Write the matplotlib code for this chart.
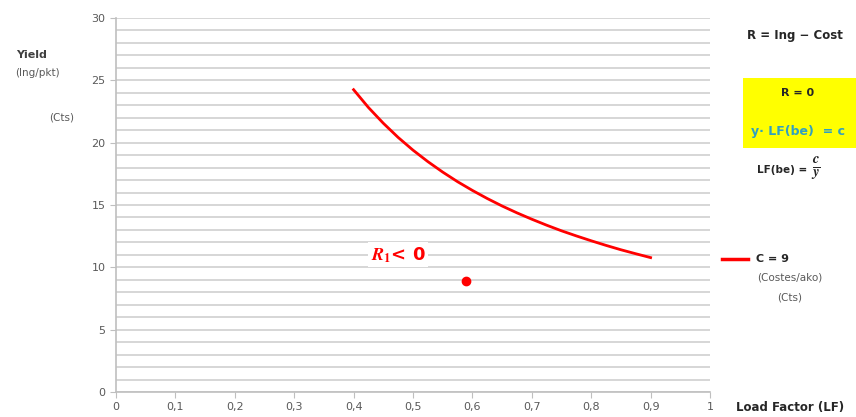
import matplotlib.pyplot as plt
from matplotlib.ticker import MultipleLocator, FuncFormatter

# data
load_factor = [0.40, 0.425, 0.45, 0.475, 0.50, 0.525, 0.55, 0.575, 0.60, 0.625, 0.65,
               0.675, 0.70, 0.725, 0.75, 0.775, 0.80, 0.825, 0.85, 0.875, 0.90]
yield_cts = [24.25, 22.82, 21.56, 20.42, 19.40, 18.48, 17.64, 16.87, 16.17, 15.52, 14.92,
             14.37, 13.86, 13.38, 12.93, 12.52, 12.13, 11.76, 11.41, 11.09, 10.78]
point_lf = [0.59]
point_yield = [8.9]

W, H = 856, 417
fig = plt.figure(figsize=(W / 100, H / 100), dpi=100)
ax = fig.add_axes([116 / W, 1 - 392 / H, (710 - 116) / W, (392 - 18) / H])

grid_c = "#d0d0d0"
txt_c = "#595959"

ax.set_xlim(0, 1)
ax.set_ylim(0, 30)
ax.xaxis.set_major_locator(MultipleLocator(0.1))
ax.yaxis.set_major_locator(MultipleLocator(5))
ax.yaxis.set_minor_locator(MultipleLocator(1))
ax.xaxis.set_major_formatter(FuncFormatter(lambda v, p: f"{v:.1f}".replace(".", ",").replace("0,0", "0").replace("1,0", "1")))
ax.yaxis.grid(True, which="both", color=grid_c, linewidth=1.2)
ax.set_axisbelow(True)
for s in ["top", "right"]:
    ax.spines[s].set_visible(False)
for s in ["left", "bottom"]:
    ax.spines[s].set_color("#bfbfbf")
    ax.spines[s].set_linewidth(1.2)
ax.tick_params(which="major", length=4, color="#bfbfbf", labelsize=8, labelcolor=txt_c)
ax.tick_params(which="minor", length=0)

ax.plot(load_factor, yield_cts, color="#ff0000", linewidth=2, solid_joinstyle="round")
ax.plot(point_lf, point_yield, "o", color="#ff0000", markersize=6)

ax.text(0.475, 11.0, r"$\mathbfit{R}_\mathbf{1}$< 0", color="#ff0000", fontsize=13, fontweight="bold",
        math_fontfamily="stix", ha="center", va="center",
        bbox=dict(facecolor="white", edgecolor="none", pad=2))

# left side labels
fig.text(32 / W, 1 - 55 / H, "Yield", fontsize=8, fontweight="bold", color="#404040", ha="center", va="center")
fig.text(37 / W, 1 - 73 / H, "(lng/pkt)", fontsize=7.5, color=txt_c, ha="center", va="center")
fig.text(62 / W, 1 - 117 / H, "(Cts)", fontsize=7.5, color=txt_c, ha="center", va="center")

# right side notes
fig.text(795 / W, 1 - 35 / H, "R = Ing − Cost", fontsize=8.5, fontweight="bold", color="#262626", ha="center", va="center")
fig.patches.append(plt.Rectangle((743 / W, 1 - 148 / H), (856 - 743) / W, 70 / H,
                                 transform=fig.transFigure, facecolor="#ffff00", edgecolor="none"))
fig.text(798 / W, 1 - 93 / H, "R = 0", fontsize=8, fontweight="bold", color="#262626", ha="center", va="center")
fig.text(798 / W, 1 - 131 / H, "y· LF(be)  = c", fontsize=9, fontweight="bold", color="#31a0c0", ha="center", va="center")
fig.text(782 / W, 1 - 170 / H, "LF(be) =", fontsize=7.5, fontweight="bold", color="#262626", ha="center", va="center")
fig.text(816 / W, 1 - 168 / H, r"$\mathbfit{\frac{c}{y}}$", fontsize=15, color="#262626", math_fontfamily="stix",
         ha="center", va="center")

# legend
fig.add_artist(plt.Line2D([722 / W, 748 / W], [1 - 259 / H, 1 - 259 / H], color="#ff0000", linewidth=2.5))
fig.text(756 / W, 1 - 259 / H, "C = 9", fontsize=8, fontweight="bold", color="#262626", ha="left", va="center")
fig.text(790 / W, 1 - 278 / H, "(Costes/ako)", fontsize=7.5, color=txt_c, ha="center", va="center")
fig.text(790 / W, 1 - 297 / H, "(Cts)", fontsize=7.5, color=txt_c, ha="center", va="center")

fig.text(790 / W, 1 - 407 / H, "Load Factor (LF)", fontsize=8.5, fontweight="bold", color="#262626", ha="center", va="center")

fig.savefig("out.png", dpi=100)
